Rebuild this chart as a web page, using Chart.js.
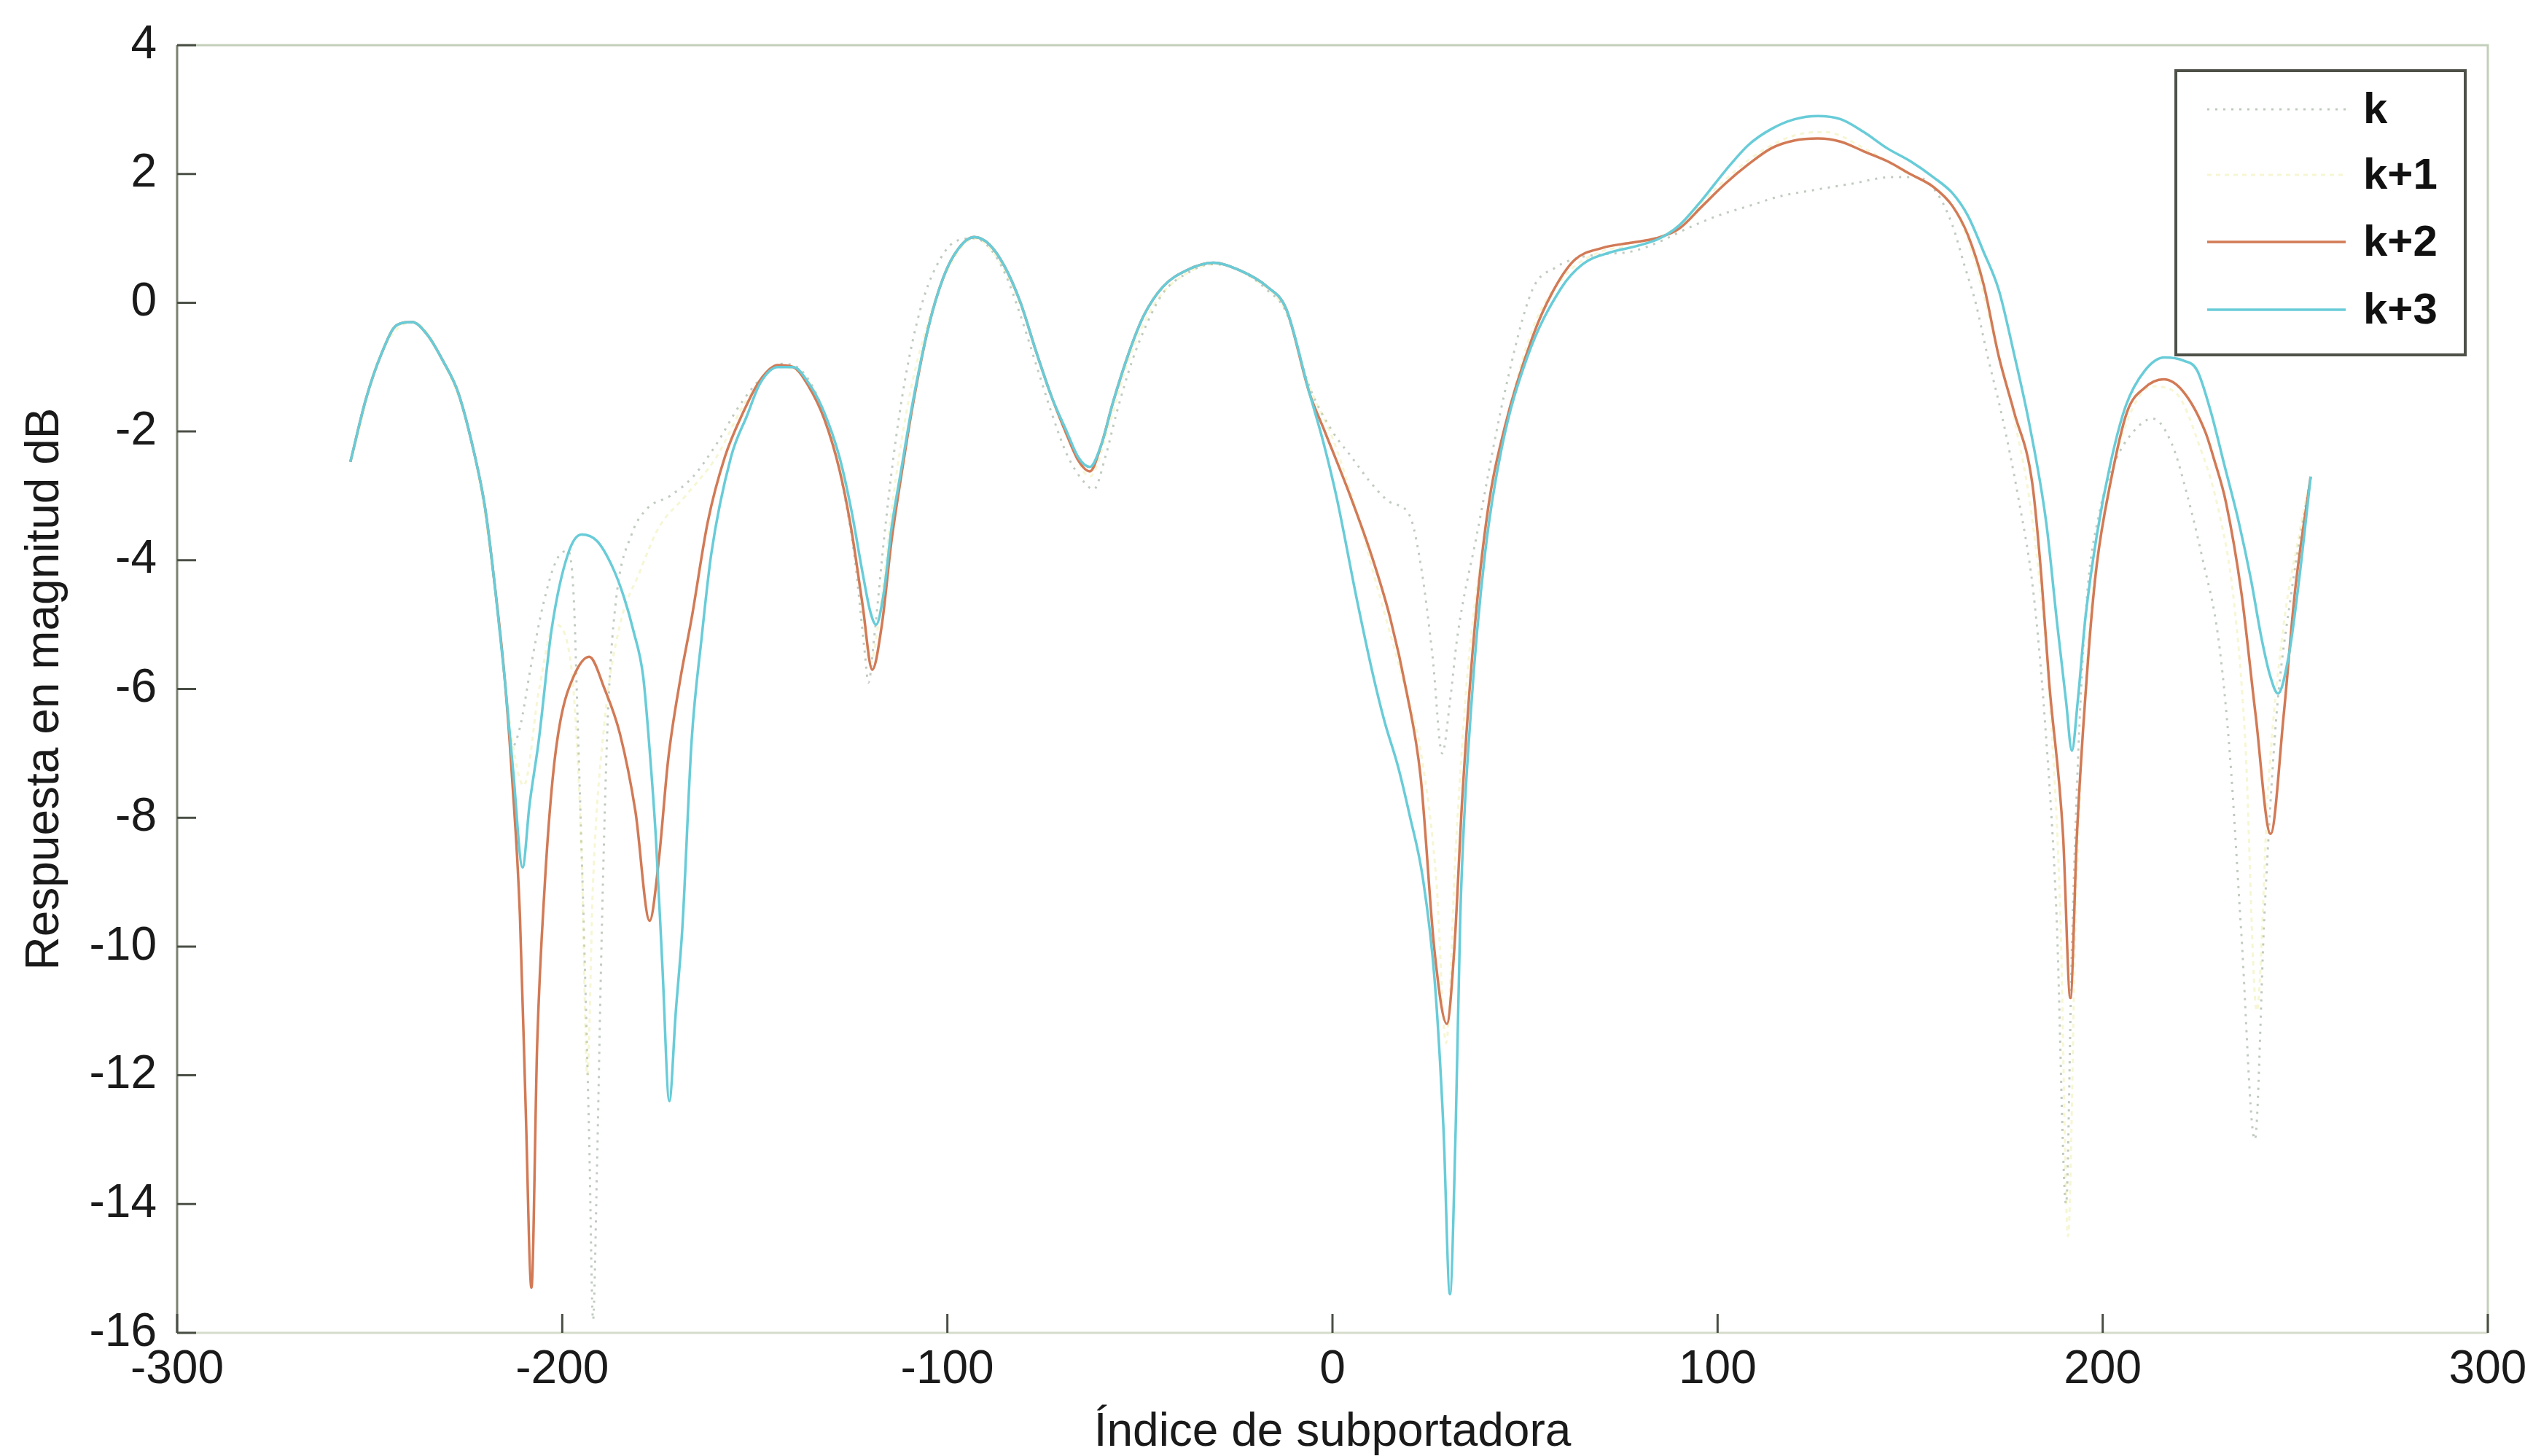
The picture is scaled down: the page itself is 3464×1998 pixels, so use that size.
<!DOCTYPE html>
<html>
<head>
<meta charset="utf-8">
<title>Respuesta en magnitud</title>
<script src="https://cdn.jsdelivr.net/npm/chart.js@4.4.1/dist/chart.umd.min.js"></script>
<style>
  html, body { margin: 0; padding: 0; background: #fff; }
  #grafica { display: block; }
</style>
</head>
<body>
<canvas id="grafica" width="3464" height="1998"></canvas>
<script>
// valores (indice de subportadora, dB)
var xK = [-255,-251,-247,-243,-239,-235,-231,-227,-223,-220,
  -217.5,-215,-213,-211,-208,-205,-201.5,-198.5,-197,-196,
  -194.5,-193,-192,-191,-190,-189,-188,-186,-182,-178,
  -172,-166,-160,-154,-148,-143,-139,-135,-131,-127,
  -124,-121.5,-120.5,-119,-116.5,-114,-111,-107,-103,-98,
  -93,-89,-85,-81,-77,-73,-69,-65,-62,-59,
  -56,-52,-48,-44,-38,-31,-24,-17,-12,-6,
  0,5,10,15,20,23,26,28.5,30.5,32.4,
  37.5,44.7,51.9,58,64,70,78,85,92,100,
  108,116,125,135,145,152,157,161,164,167,
  170,174,178,182,185,188,190.5,192,194,196,
  199,203,208,213,218,222,226,230,233,236,
  239.5,242,245,249,254];
var yK = [-2.47,-1.5,-0.8,-0.35,-0.3,-0.5,-0.9,-1.4,-2.3,-3.2,
  -4.4,-5.8,-6.9,-6.6,-5.6,-4.7,-4.0,-3.85,-4.6,-6.5,
  -9.5,-13.0,-15.8,-13.5,-10.5,-8.0,-6.2,-4.6,-3.6,-3.2,
  -3.0,-2.7,-2.2,-1.6,-1.15,-0.95,-1.0,-1.3,-1.9,-2.9,
  -4.0,-5.4,-5.9,-5.2,-3.7,-2.4,-1.2,-0.1,0.55,0.95,
  1.0,0.85,0.45,-0.2,-0.95,-1.7,-2.35,-2.75,-2.9,-2.4,
  -1.7,-0.9,-0.3,0.15,0.45,0.6,0.5,0.2,-0.15,-1.3,
  -2.0,-2.4,-2.8,-3.1,-3.3,-4.1,-5.5,-7.0,-6.2,-5.2,
  -3.6,-1.4,0.2,0.55,0.7,0.75,0.8,0.95,1.15,1.35,
  1.5,1.65,1.75,1.85,1.95,1.95,1.7,1.2,0.6,0.0,
  -0.8,-1.8,-3.0,-4.5,-6.5,-9.5,-14.0,-10.0,-6.5,-4.5,
  -3.3,-2.5,-2.0,-1.8,-2.2,-3.0,-4.0,-5.2,-7.0,-9.8,
  -13.0,-9.5,-6.5,-4.5,-2.7];

var xK1 = [-255,-247,-239,-231,-223,-217.5,-213,-210,-206,-202,
  -198,-195,-193.5,-192,-189,-185,-180,-175,-168,-160,
  -152,-144,-138,-132,-127,-123,-120,-117.5,-114,-110,
  -105,-100,-93,-86,-80,-74,-68,-63,-58,-53,
  -46,-38,-30,-20,-12,-6,0,6,12,18,
  23,27,29.5,32,35,39,45,52,60,70,
  80,90,100,110,120,128,138,148,156,162,
  167,172,177,182,186,189,191,193,196,200,
  206,213,219,225,230,234,237,240,243,247,
  251,254];
var yK1 = [-2.47,-0.8,-0.3,-0.9,-2.3,-4.4,-6.8,-7.5,-6.0,-5.0,
  -5.5,-8.5,-12.0,-9.0,-6.5,-5.0,-4.2,-3.5,-3.0,-2.4,
  -1.5,-1.0,-1.1,-1.7,-2.8,-4.3,-5.6,-4.8,-3.0,-1.5,
  -0.3,0.5,1.0,0.6,-0.2,-1.3,-2.2,-2.7,-1.9,-0.9,
  0.0,0.45,0.6,0.35,-0.15,-1.3,-2.1,-3.2,-4.5,-5.8,
  -7.0,-9.0,-11.5,-8.5,-5.8,-3.8,-1.9,-0.4,0.4,0.8,
  0.9,1.2,1.8,2.3,2.6,2.65,2.4,2.05,1.8,1.4,
  0.6,-0.6,-1.8,-3.5,-6.0,-9.5,-14.5,-9.5,-5.5,-3.4,
  -1.9,-1.3,-1.4,-2.2,-3.2,-4.6,-6.8,-11.0,-7.5,-5.0,
  -3.6,-2.7];

var xK2 = [-255,-251,-247,-243,-239,-235,-231,-227,-223,-220,
  -217.5,-215,-213,-211,-209.5,-208,-206.5,-204.5,-202.5,-200.5,
  -197,-193,-189,-185,-181,-177.3,-175,-172.5,-169.5,-166.4,
  -162.2,-157.8,-153,-148.6,-144,-140,-136,-132,-128,-125,
  -122,-119.5,-117,-114.5,-112,-109,-105,-101,-97,-93,
  -89,-85,-81,-77,-73,-69,-66,-63,-60,-57,
  -53,-49,-44,-38,-31,-24,-17,-12,-6,-2,
  4.8,10,15,19.3,22.9,26.5,29.7,31.6,33.7,36.7,
  40.3,44.7,51.9,57,62.8,70,77.3,84,90,96,
  102,108,114,120,126,132,138,144,150,156,
  161,165,169,173,177,181.7,184,186.1,189.7,191.6,
  193.3,196.3,198.4,202,206.3,210.7,215.8,220.9,226.6,229,
  232,236,239.7,243.6,247,249.9,254];
var yK2 = [-2.47,-1.5,-0.8,-0.35,-0.3,-0.5,-0.9,-1.4,-2.3,-3.2,
  -4.4,-5.8,-7.4,-9.5,-12.5,-15.3,-11.5,-9.0,-7.4,-6.5,
  -5.8,-5.5,-6.0,-6.7,-7.9,-9.6,-8.7,-7.1,-5.9,-4.9,
  -3.4,-2.4,-1.7,-1.2,-0.97,-1.0,-1.3,-1.8,-2.6,-3.5,
  -4.7,-5.7,-5.0,-3.7,-2.7,-1.6,-0.4,0.4,0.85,1.02,
  0.9,0.55,0.0,-0.75,-1.45,-2.05,-2.45,-2.62,-2.2,-1.55,
  -0.8,-0.2,0.25,0.5,0.62,0.5,0.25,-0.1,-1.4,-2.0,
  -3.03,-3.9,-4.9,-6.06,-7.37,-10.07,-11.2,-10.07,-7.7,-5.2,
  -3.24,-1.94,-0.54,0.15,0.66,0.85,0.93,1.0,1.15,1.5,
  1.85,2.15,2.4,2.52,2.55,2.5,2.35,2.2,2.0,1.8,
  1.5,1.05,0.3,-0.83,-1.7,-2.8,-4.2,-5.9,-8.27,-10.8,
  -8.27,-5.46,-4.1,-2.8,-1.7,-1.33,-1.19,-1.38,-2.0,-2.45,
  -3.1,-4.5,-6.4,-8.25,-6.4,-4.5,-2.7];

var xK3 = [-255,-251,-247,-243,-239,-235,-231,-227,-223,-220,
  -217.5,-215,-212.7,-210.3,-208.5,-206.1,-202.7,-198.5,-195,-191,
  -187,-184,-181.5,-179,-177.5,-175.7,-174,-172.2,-170.5,-168.8,
  -166.4,-163.8,-161.3,-156.2,-152,-148.6,-144,-140,-136,-132,
  -128,-125,-122,-120,-118.5,-116.5,-114.5,-112,-109,-105,
  -101,-97,-93,-89,-85,-81,-77,-73,-69,-66,
  -63,-60,-57,-53,-49,-44,-38,-31,-24,-17,
  -12,-6,-2.4,1.1,6.3,10.6,13.5,17,20,23.5,
  26.5,28.8,30.5,32,33.2,36,39.6,43.9,50.5,59.3,
  65,72,79,85,90,96,102,108,114,120,
  126,132,138,144,150,156,161,165,169,173,
  177,181,185.3,188.2,190.5,192,193.5,195.5,198.5,202,
  206,211,216,221,224.5,228.1,231.5,235.3,238.5,241.2,
  243.5,245.5,248.4,251,254];
var yK3 = [-2.47,-1.5,-0.8,-0.35,-0.3,-0.5,-0.9,-1.4,-2.3,-3.2,
  -4.4,-5.8,-7.3,-8.77,-7.8,-6.8,-5.05,-3.9,-3.6,-3.7,
  -4.1,-4.57,-5.1,-5.8,-6.8,-8.3,-10.3,-12.4,-11.0,-9.7,
  -6.8,-5.2,-3.9,-2.4,-1.75,-1.25,-1.0,-1.0,-1.25,-1.7,
  -2.4,-3.2,-4.2,-4.8,-5.0,-4.5,-3.5,-2.6,-1.55,-0.4,
  0.4,0.85,1.02,0.9,0.55,0.0,-0.75,-1.45,-2.0,-2.4,
  -2.55,-2.2,-1.55,-0.8,-0.2,0.25,0.5,0.62,0.5,0.25,
  -0.1,-1.4,-2.16,-3.03,-4.6,-5.8,-6.5,-7.2,-7.95,-8.95,
  -10.5,-12.8,-15.4,-12.8,-9.5,-6.3,-3.9,-2.27,-0.86,0.22,
  0.6,0.78,0.88,1.0,1.2,1.6,2.05,2.45,2.7,2.85,
  2.9,2.85,2.65,2.4,2.2,1.95,1.7,1.35,0.8,0.2,
  -0.8,-1.9,-3.4,-5.0,-6.2,-6.96,-6.2,-4.9,-3.6,-2.5,
  -1.6,-1.05,-0.85,-0.9,-1.05,-1.7,-2.5,-3.4,-4.3,-5.2,
  -5.8,-6.07,-5.45,-4.3,-2.7];

var ticksX = [-300, -200, -100, 0, 100, 200, 300];
var ticksY = [-16, -14, -12, -10, -8, -6, -4, -2, 0, 2, 4];

function puntos(xs, ys) {
  var p = [];
  for (var i = 0; i < xs.length; i++) {
    p.push({x: xs[i], y: ys[i]});
  }
  return p;
}

// ticks hacia dentro, caja y leyenda al estilo matlab
var ejesMatlab = {
  id: 'ejesMatlab',
  afterDatasetsDraw: function(chart) {
    var ctx = chart.ctx;
    var a = chart.chartArea;
    var sx = chart.scales.x, sy = chart.scales.y;
    ctx.save();
    ctx.lineWidth = 3;
    ctx.strokeStyle = '#c3cfba';
    ctx.beginPath();
    ctx.moveTo(a.left, a.top);
    ctx.lineTo(a.right, a.top);
    ctx.lineTo(a.right, a.bottom);
    ctx.stroke();
    ctx.strokeStyle = '#d6dccb';
    ctx.beginPath();
    ctx.moveTo(a.left, a.bottom);
    ctx.lineTo(a.right, a.bottom);
    ctx.stroke();
    ctx.strokeStyle = '#7a8272';
    ctx.beginPath();
    ctx.moveTo(a.left, a.top);
    ctx.lineTo(a.left, a.bottom);
    ctx.stroke();

    ctx.strokeStyle = '#4a4f46';
    ctx.lineWidth = 3;
    ctx.beginPath();
    ticksX.forEach(function(v) {
      var px = sx.getPixelForValue(v);
      ctx.moveTo(px, a.bottom);
      ctx.lineTo(px, a.bottom - 26);
    });
    ticksY.forEach(function(v) {
      var py = sy.getPixelForValue(v);
      ctx.moveTo(a.left, py);
      ctx.lineTo(a.left + 26, py);
    });
    ctx.stroke();
    ctx.restore();
  },
  afterDraw: function(chart) {
    var ctx = chart.ctx;
    var caja = {left: 2985, top: 97, right: 3382, bottom: 487};
    ctx.save();
    ctx.fillStyle = '#ffffff';
    ctx.fillRect(caja.left, caja.top, caja.right - caja.left, caja.bottom - caja.top);
    ctx.strokeStyle = '#4d5148';
    ctx.lineWidth = 4;
    ctx.strokeRect(caja.left, caja.top, caja.right - caja.left, caja.bottom - caja.top);
    var filas = [150, 240, 332, 425];
    ctx.font = 'bold 60px "Liberation Sans", Arial, sans-serif';
    ctx.textBaseline = 'middle';
    ctx.textAlign = 'left';
    chart.data.datasets.forEach(function(ds, i) {
      ctx.strokeStyle = ds.borderColor;
      ctx.lineWidth = ds.borderWidth;
      ctx.setLineDash(ds.borderDash || []);
      ctx.beginPath();
      ctx.moveTo(3028, filas[i]);
      ctx.lineTo(3218, filas[i]);
      ctx.stroke();
      ctx.setLineDash([]);
      ctx.fillStyle = '#111';
      ctx.fillText(ds.label, 3242, filas[i] + 2);
    });
    ctx.restore();
  }
};

var grafica = new Chart(document.getElementById('grafica'), {
  type: 'line',
  data: {
    datasets: [{
      label: 'k',
      data: puntos(xK, yK),
      borderColor: 'rgba(150, 168, 150, 0.6)',
      borderWidth: 3,
      borderDash: [3, 8],
      pointRadius: 0,
      cubicInterpolationMode: 'monotone',
      order: 4
    }, {
      label: 'k+1',
      data: puntos(xK1, yK1),
      borderColor: 'rgba(228, 228, 130, 0.35)',
      borderWidth: 3,
      borderDash: [6, 6],
      pointRadius: 0,
      cubicInterpolationMode: 'monotone',
      order: 3
    }, {
      label: 'k+2',
      data: puntos(xK2, yK2),
      borderColor: 'rgb(210, 122, 86)',
      borderWidth: 3.5,
      pointRadius: 0,
      cubicInterpolationMode: 'monotone',
      order: 2
    }, {
      label: 'k+3',
      data: puntos(xK3, yK3),
      borderColor: 'rgb(104, 204, 216)',
      borderWidth: 3.5,
      pointRadius: 0,
      cubicInterpolationMode: 'monotone',
      order: 1
    }]
  },
  options: {
    responsive: false,
    animation: false,
    devicePixelRatio: 1,
    layout: {
      padding: {left: 0, right: 51, top: 62, bottom: 0}
    },
    plugins: {
      legend: {display: false},
      tooltip: {enabled: false}
    },
    scales: {
      x: {
        type: 'linear',
        min: -300,
        max: 300,
        afterBuildTicks: function(s) {
          s.ticks = ticksX.map(function(v) { return {value: v}; });
        },
        afterFit: function(s) {
          s.height = 169;
          s.paddingLeft = 0;
          s.paddingRight = 0;
        },
        grid: {display: false, drawTicks: false},
        border: {display: false},
        ticks: {
          padding: 13,
          color: '#1a1a1a',
          font: {family: '"Liberation Sans", Arial, sans-serif', size: 64}
        },
        title: {
          display: true,
          text: 'Índice de subportadora',
          color: '#1a1a1a',
          padding: {top: 0, bottom: 0},
          font: {family: '"Liberation Sans", Arial, sans-serif', size: 64, lineHeight: 1}
        }
      },
      y: {
        type: 'linear',
        min: -16,
        max: 4,
        afterBuildTicks: function(s) {
          s.ticks = ticksY.map(function(v) { return {value: v}; });
        },
        afterFit: function(s) {
          s.width = 243;
          s.paddingTop = 0;
          s.paddingBottom = 0;
        },
        grid: {display: false, drawTicks: false},
        border: {display: false},
        ticks: {
          padding: 28,
          color: '#1a1a1a',
          font: {family: '"Liberation Sans", Arial, sans-serif', size: 64}
        },
        title: {
          display: true,
          text: 'Respuesta en magnitud dB',
          color: '#1a1a1a',
          padding: {top: 24, bottom: 0},
          font: {family: '"Liberation Sans", Arial, sans-serif', size: 64}
        }
      }
    }
  },
  plugins: [ejesMatlab]
});
</script>
</body>
</html>
